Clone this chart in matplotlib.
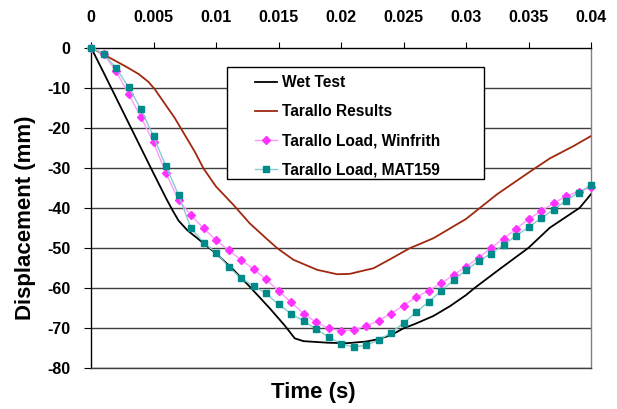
import matplotlib.pyplot as plt
from matplotlib.patches import Rectangle

plt.rcParams['font.family'] = ['Liberation Sans', 'DejaVu Sans']
plt.rcParams['font.weight'] = 'bold'

# Wet test (black line)
wet_t = [0, 0.001, 0.002, 0.003, 0.004, 0.005, 0.006, 0.0065, 0.007, 0.0077, 0.0087,
         0.010, 0.0114, 0.0127, 0.0143, 0.0155, 0.0163, 0.017, 0.018, 0.019, 0.0205,
         0.022, 0.023, 0.024, 0.025, 0.026, 0.0274, 0.0287, 0.030, 0.0307, 0.0327,
         0.035, 0.0367, 0.0391, 0.040]
wet_d = [0, -6.2, -12.5, -18.8, -25.1, -31.4, -37.6, -40.5, -43.2, -45.6, -48.1,
         -51.4, -55.5, -59.7, -65.1, -69.4, -72.6, -73.3, -73.5, -73.7, -73.8,
         -73.4, -72.8, -71.8, -70.1, -68.9, -67.0, -64.6, -61.8, -60.0, -55.3,
         -50.0, -45.0, -40.0, -36.6]

# Tarallo results (red line)
tar_t = [0, 0.0011, 0.0027, 0.0038, 0.0046, 0.0051, 0.0059, 0.0067, 0.0075, 0.0083,
         0.009, 0.010, 0.0114, 0.0127, 0.014, 0.0149, 0.0162, 0.0181, 0.0197, 0.0207,
         0.0226, 0.0239, 0.0255, 0.0274, 0.030, 0.0325, 0.0353, 0.0367, 0.0386, 0.040]
tar_d = [0, -1.9, -4.6, -6.6, -8.6, -10.4, -14.0, -17.6, -21.8, -26.0,
         -30.2, -34.7, -39.3, -43.9, -47.6, -50.1, -53.0, -55.5, -56.6, -56.5,
         -55.1, -52.9, -50.1, -47.6, -42.8, -36.6, -30.6, -27.7, -24.6, -22.1]

# sampled every 1 ms
times = [i / 1000 for i in range(41)]
winfrith = [0, -1.6, -5.9, -11.6, -17.4, -23.7, -31.4, -38.1, -41.9, -45.1, -48.1,
            -50.6, -53.0, -55.3, -57.9, -60.7, -63.6, -66.4, -68.6, -70.1, -70.7,
            -70.5, -69.5, -68.2, -66.4, -64.4, -62.3, -60.7, -58.9, -56.8, -54.7,
            -52.5, -50.0, -47.7, -45.3, -42.9, -40.8, -38.9, -37.1, -36.0, -34.9]
mat159 = [0, -1.5, -5.1, -9.9, -15.4, -22.2, -29.7, -36.8, -45.1, -48.7, -51.2,
          -54.7, -57.6, -59.5, -61.4, -64.1, -66.4, -68.3, -70.2, -72.3, -73.9,
          -74.8, -74.3, -73.1, -71.2, -68.8, -66.1, -63.5, -60.8, -58.1, -55.6,
          -53.3, -51.5, -49.3, -47.0, -44.9, -42.6, -40.5, -38.2, -36.2, -34.4]

xticks = [0, 0.005, 0.01, 0.015, 0.02, 0.025, 0.03, 0.035, 0.04]
xticklabels = ['0', '0.005', '0.01', '0.015', '0.02', '0.025', '0.03', '0.035', '0.04']
yticks = [0, -10, -20, -30, -40, -50, -60, -70, -80]

fig = plt.figure(figsize=(6.17, 4.09), dpi=100)
ax = fig.add_axes([91 / 617, 1 - 368 / 409, 500 / 617, 320.5 / 409])

for y in yticks[1:]:
    ax.axhline(y, color='#404040', lw=1.0, zorder=1)

ax.plot(wet_t, wet_d, color='black', lw=1.3, label='Wet Test', zorder=3)
ax.plot(tar_t, tar_d, color='#A0280F', lw=1.3, label='Tarallo Results', zorder=3)
ax.plot(times, winfrith, color='#FF99FF', lw=1.0, marker='D', ms=4.5,
        mfc='#FF33FF', mec='#FF33FF', label='Tarallo Load, Winfrith', zorder=4, clip_on=False)
ax.plot(times, mat159, color='#88CCCC', lw=1.0, marker='s', ms=5,
        mfc='#008B8B', mec='#008B8B', label='Tarallo Load, MAT159', zorder=5, clip_on=False)

ax.set_xlim(0, 0.04)
ax.set_ylim(-80, 0)
ax.set_xticks(xticks)
ax.set_xticklabels(xticklabels)
ax.set_yticks(yticks)
ax.set_yticklabels([str(v) for v in yticks])
ax.xaxis.tick_top()
ax.tick_params(axis='x', direction='out', length=4, pad=12, labelsize=11.5)
ax.tick_params(axis='y', direction='out', length=5, pad=10, labelsize=11.5)

ax.spines['top'].set_color('black')
ax.spines['left'].set_color('black')
ax.spines['bottom'].set_color('#404040')
ax.spines['right'].set_color('#808080')
for s in ax.spines.values():
    s.set_linewidth(1.0)

ax.set_xlabel('Time (s)', fontsize=16, fontweight='bold')
ax.xaxis.set_label_position('bottom')
ax.xaxis.set_label_coords(0.444, -0.045)
ax.set_ylabel('Displacement (mm)', fontsize=16, fontweight='bold')
ax.yaxis.set_label_coords(-0.11, 0.468)

# legend frame drawn separately
ax.add_patch(Rectangle((0.271, 0.59), 0.514, 0.348, transform=ax.transAxes,
                       fill=True, facecolor='white', edgecolor='black', lw=1.0, zorder=6))
leg = ax.legend(loc='upper left', bbox_to_anchor=(0.307, 0.948), frameon=False,
                fontsize=11.2, handlelength=1.4, handletextpad=0.3, labelspacing=0.9,
                borderpad=0.2)
leg.set_zorder(7)

fig.savefig('out.png', dpi=100)
